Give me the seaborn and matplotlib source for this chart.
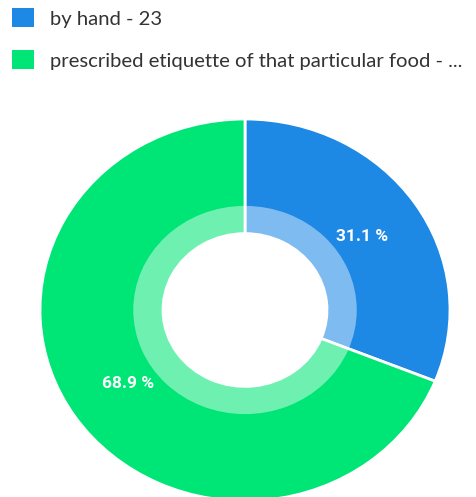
import matplotlib
matplotlib.use("Agg")
import matplotlib.pyplot as plt
import seaborn as sns
from matplotlib.patches import Patch

categories = ["by hand", "prescribed etiquette of that particular food"]
values = [23, 51]
legend_labels = ["by hand - 23", "prescribed etiquette of that particular food - ..."]
colors = ["#1E88E5", "#00E676"]

sns.set_theme(style="white")
plt.rcParams['font.family'] = ['Lato', 'DejaVu Sans']

W, H = 476, 497
fig = plt.figure(figsize=(W / 100, H / 100), dpi=100)
fig.patch.set_facecolor("white")

# axes placement in pixels
cx, cy_top = 245, 310
rx, ry = 205, 191
ax = fig.add_axes([(cx - rx) / W, (H - cy_top - ry) / H, 2 * rx / W, 2 * ry / H])

wedges, texts, autotexts = ax.pie(
    values, colors=colors, startangle=90, counterclock=False, radius=1.0,
    autopct=lambda p: f"{p:.1f} %", pctdistance=0.69,
    wedgeprops=dict(width=0.6, edgecolor="white", linewidth=2),
    textprops=dict(color="white", fontsize=12.5, fontweight="bold",
                   family=["Roboto", "DejaVu Sans"]))
# translucent inner highlight ring
ax.pie([1], colors=["white"], startangle=90, radius=0.545,
       wedgeprops=dict(width=0.145, linewidth=0, alpha=0.43))
ax.set_aspect("auto")
ax.set_xlim(-1, 1)
ax.set_ylim(-1, 1)
ax.axis("off")

handles = [Patch(facecolor=c, edgecolor="none") for c in colors]
fig.legend(handles, legend_labels, loc="upper left", bbox_to_anchor=(12 / W, 1 - 8 / H),
           frameon=False, fontsize=14.6, handlelength=1.08, handleheight=1.08,
           handletextpad=0.8, labelspacing=1.12, borderpad=0, borderaxespad=0,
           labelcolor="#333333")

fig.savefig("out.png", dpi=100)
